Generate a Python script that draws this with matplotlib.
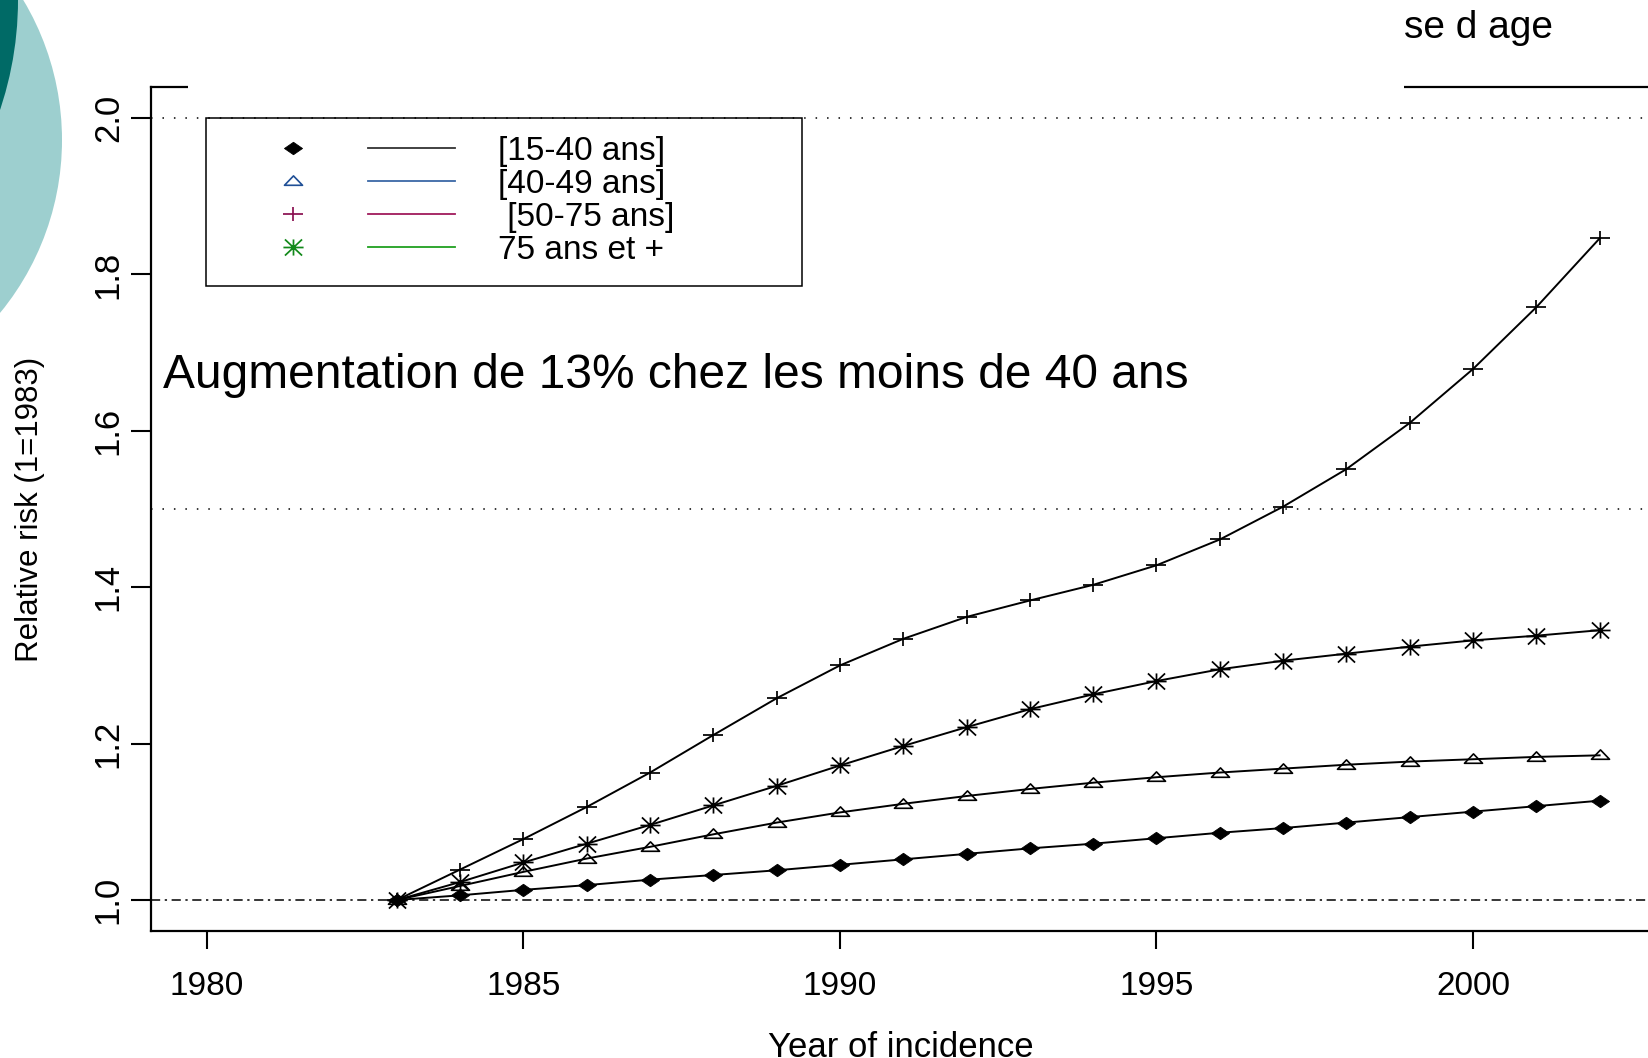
import matplotlib
matplotlib.use("Agg")
import matplotlib.pyplot as plt
from matplotlib.path import Path
from matplotlib.patches import Rectangle, Circle
from matplotlib.lines import Line2D
from matplotlib.legend_handler import HandlerTuple

plt.rcParams['font.family'] = ['Liberation Sans', 'DejaVu Sans']

# ---------------- data ----------------
years = list(range(1983, 2003))
rr_15_40 = [1.000, 1.006, 1.013, 1.019, 1.026, 1.032, 1.038, 1.045, 1.052, 1.059,
            1.066, 1.072, 1.079, 1.086, 1.092, 1.099, 1.106, 1.113, 1.120, 1.127]
rr_40_49 = [1.000, 1.018, 1.036, 1.053, 1.068, 1.084, 1.099, 1.112, 1.123, 1.133,
            1.142, 1.150, 1.157, 1.163, 1.168, 1.173, 1.177, 1.180, 1.183, 1.185]
rr_50_75 = [1.000, 1.039, 1.078, 1.119, 1.163, 1.211, 1.258, 1.300, 1.334, 1.362,
            1.383, 1.403, 1.428, 1.461, 1.503, 1.551, 1.610, 1.679, 1.758, 1.846]
rr_75p = [1.000, 1.023, 1.048, 1.072, 1.096, 1.121, 1.146, 1.172, 1.197, 1.221,
          1.244, 1.263, 1.280, 1.295, 1.306, 1.315, 1.324, 1.332, 1.338, 1.345]

legend_labels = ["[15-40 ans]", "[40-49 ans]", " [50-75 ans]", "75 ans et +"]
legend_marker_colors = ["#000000", "#1f4f96", "#8a1050", "#12891a"]
legend_line_colors = ["#333333", "#3a68a6", "#a01a5c", "#20a020"]

xticks = [1980, 1985, 1990, 1995, 2000]
yticks = [1.0, 1.2, 1.4, 1.6, 1.8, 2.0]
ytick_labels = ["1.0", "1.2", "1.4", "1.6", "1.8", "2.0"]
dotted_refs = [2.0, 1.5]
base_ref = 1.0

annotation = "Augmentation de 13% chez les moins de 40 ans"
slide_title = "se d age"
xlabel = "Year of incidence"
ylabel = "Relative risk (1=1983)"

# ---------------- markers ----------------
M, L, C = Path.MOVETO, Path.LINETO, Path.CLOSEPOLY
diamond = Path([(-1, 0), (0, 0.69), (1, 0), (0, -0.69), (-1, 0)], [M, L, L, L, C])
triangle = Path([(-1, -0.42), (1, -0.42), (0, 0.62), (-1, -0.42)], [M, L, L, C])
plus = Path([(-1, 0), (1, 0), (0, -0.68), (0, 0.68)], [M, L, M, L])
star = Path([(-1, 0), (1, 0), (0, -0.8), (0, 0.8),
             (-0.85, -0.8), (0.85, 0.8), (-0.85, 0.8), (0.85, -0.8)],
            [M, L, M, L, M, L, M, L])

series = [
    (rr_15_40, diamond, 13.0, 'black', 0.6),
    (rr_40_49, triangle, 13.0, 'none', 1.2),
    (rr_50_75, plus, 14.0, 'none', 1.25),
    (rr_75p, star, 14.5, 'none', 1.25),
]

# ---------------- figure / axes ----------------
W, H = 1648, 1058
fig = plt.figure(figsize=(W / 100, H / 100), dpi=100)
fig.patch.set_facecolor('white')

def fx(px):
    return px / W

def fy(py):
    return 1 - py / H

ax_l, ax_r, ax_t, ax_b = 151, 1680, 87, 931
ax = fig.add_axes([fx(ax_l), fy(ax_b), (ax_r - ax_l) / W, (ax_b - ax_t) / H])

px_per_year = 63.3
px_per_unit = 782.0
ax.set_xlim(1980 - (207 - ax_l) / px_per_year, 1980 + (ax_r - 207) / px_per_year)
ax.set_ylim(1 - (ax_b - 900) / px_per_unit, 1 + (900 - ax_t) / px_per_unit)

for y in dotted_refs:
    ax.axhline(y, color='black', lw=1.1, ls=(0, (1, 6.5)), zorder=1)
ax.axhline(base_ref, color='black', lw=1.1, ls=(0, (6, 3, 1.5, 3)), zorder=1)

for vals, mk, ms, mfc, mew in series:
    ax.plot(years, vals, color='black', lw=1.4, marker=mk, ms=ms,
            mfc=mfc, mec='black', mew=mew, zorder=3)

ax.set_xticks(xticks)
ax.set_xticklabels([str(t) for t in xticks], fontsize=24)
ax.set_yticks(yticks)
ax.set_yticklabels(ytick_labels, fontsize=25, rotation=90, va='center', ha='right')
ax.tick_params(axis='x', length=13, width=1.5, pad=15.5, direction='out')
ax.tick_params(axis='y', length=14.4, width=1.5, pad=4.5, direction='out')

for s in ['left', 'bottom', 'top']:
    ax.spines[s].set_linewidth(1.6)
ax.spines['right'].set_visible(False)

ax.set_xlabel(xlabel, fontsize=25)
ax.xaxis.set_label_coords((901 - ax_l) / (ax_r - ax_l), (ax_b - 1031) / (ax_b - ax_t))
ax.set_ylabel(ylabel, fontsize=22.5)
ax.yaxis.set_label_coords((45 - ax_l) / (ax_r - ax_l), (ax_b - 509) / (ax_b - ax_t))

# ---------------- legend ----------------
handles = []
for (vals, mk, ms, mfc, mew), mc, lc in zip(series, legend_marker_colors, legend_line_colors):
    mh = Line2D([], [], ls='none', marker=mk, ms=ms,
                mfc=(mc if mfc != 'none' else 'none'), mec=mc, mew=mew)
    lh = Line2D([], [], color=lc, lw=1.3)
    handles.append((mh, lh))

fs_leg = 24
fs_px = fs_leg * 100 / 72
leg = ax.legend(handles, legend_labels,
                handler_map={tuple: HandlerTuple(ndivide=2, pad=31.5 / fs_px)},
                loc='upper left', bbox_to_anchor=(fx(249.5), fy(136)),
                bbox_transform=fig.transFigure, frameon=False, fontsize=fs_leg,
                borderpad=0, borderaxespad=0, handlelength=205.5 / fs_px,
                handletextpad=43 / fs_px, labelspacing=0.06, numpoints=1,
                handleheight=0.7)
leg.set_zorder(4)
fig.add_artist(Rectangle((fx(206), fy(286)), (802 - 206) / W, (286 - 118) / H,
                         transform=fig.transFigure, fill=False, ec='black',
                         lw=1.1, zorder=3))

# ---------------- slide decorations ----------------
fig.add_artist(Circle((-210.4 / 100, (H - 140) / 100), 272.4 / 100,
                      transform=fig.dpi_scale_trans, fc='#9dcfcf', ec='none', zorder=1))
fig.add_artist(Circle((-327 / 100, H / 100), 345 / 100,
                      transform=fig.dpi_scale_trans, fc='#006a66', ec='none', zorder=1.1))
fig.add_artist(Rectangle((fx(188), fy(100)), (1404 - 188) / W, 100 / H,
                         transform=fig.transFigure, fc='white', ec='none', zorder=5))
fig.text(fx(1404), fy(38), slide_title, fontsize=28, ha='left', va='baseline', zorder=6)
fig.text(fx(163), fy(388), annotation, fontsize=34.5, ha='left', va='baseline', zorder=6)

fig.savefig('out.png', dpi=100)
